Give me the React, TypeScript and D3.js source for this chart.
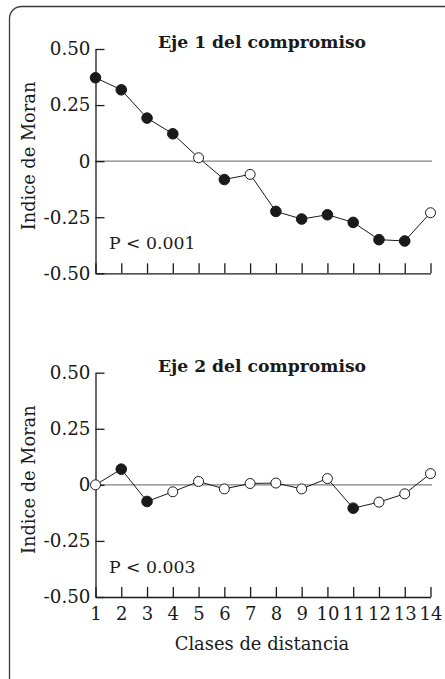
import * as d3 from "d3";
import { useEffect, useRef } from "react";

// distance classes (x)
const classes = [1, 2, 3, 4, 5, 6, 7, 8, 9, 10, 11, 12, 13, 14];

// Eje 1 del compromiso
const eje1Values = [0.372, 0.318, 0.192, 0.122, 0.015, -0.082, -0.059, -0.224, -0.258, -0.239, -0.273, -0.35, -0.356, -0.23];
const eje1Signif = [true, true, true, true, false, true, false, true, true, true, true, true, true, false];

// Eje 2 del compromiso
const eje2Values = [0.0, 0.07, -0.074, -0.031, 0.015, -0.018, 0.006, 0.008, -0.018, 0.028, -0.104, -0.077, -0.04, 0.05];
const eje2Signif = [false, true, true, false, false, false, false, false, false, false, true, false, false, false];

const yTicks = [0.5, 0.25, 0, -0.25, -0.5];
const yTickLabels = ["0.50", "0.25", "0", "-0.25", "-0.50"];

const panels = [
    { title: "Eje 1 del compromiso", pLabel: "P < 0.001", values: eje1Values, signif: eje1Signif, top: 49, showX: false },
    { title: "Eje 2 del compromiso", pLabel: "P < 0.003", values: eje2Values, signif: eje2Signif, top: 372.7, showX: true },
];

const font = "'DejaVu Serif', serif";
const ink = "#1a1a1a";

export default function App() {
    const svgRef = useRef(null);

    useEffect(() => {
        const svg = d3.select(svgRef.current);
        svg.selectAll("*").remove();

        // rounded frame, runs off the right and bottom edges
        svg.append("rect")
            .attr("x", 9.5)
            .attr("y", 6.5)
            .attr("width", 460)
            .attr("height", 690)
            .attr("rx", 12)
            .attr("fill", "none")
            .attr("stroke", "#3a3a3a")
            .attr("stroke-width", 1.3);

        const xScale = d3.scaleLinear().domain([1, 14]).range([95.5, 430.5]);
        const plotH = 224.3;

        panels.forEach((p) => {
            const yScale = d3.scaleLinear().domain([-0.5, 0.5]).range([p.top + plotH, p.top]);
            const g = svg.append("g");

            // zero line
            g.append("line")
                .attr("x1", xScale(1))
                .attr("x2", xScale(14) + 1.5)
                .attr("y1", yScale(0))
                .attr("y2", yScale(0))
                .attr("stroke", "#808080")
                .attr("stroke-width", 1.3);

            // y axis
            g.append("g")
                .attr("transform", "translate(" + xScale(1) + ",0)")
                .call(d3.axisLeft(yScale)
                    .tickValues(yTicks)
                    .tickFormat((d, i) => yTickLabels[i])
                    .tickSizeInner(-9)
                    .tickSizeOuter(0)
                    .tickPadding(5))
                .call(a => a.selectAll("path, line").attr("stroke", ink).attr("stroke-width", 1.3))
                .call(a => a.selectAll("text")
                    .attr("fill", ink)
                    .style("font-family", font)
                    .style("font-size", "18.3px"));

            // x axis
            g.append("g")
                .attr("transform", "translate(0," + yScale(-0.5) + ")")
                .call(d3.axisBottom(xScale)
                    .tickValues(classes)
                    .tickFormat(d => p.showX ? String(d) : "")
                    .tickSizeInner(-10)
                    .tickSizeOuter(0)
                    .tickPadding(10))
                .call(a => a.selectAll("path, line").attr("stroke", ink).attr("stroke-width", 1.3))
                .call(a => a.selectAll("text")
                    .attr("fill", ink)
                    .style("font-family", font)
                    .style("font-size", "18px"));

            // y label
            g.append("text")
                .attr("transform", "translate(35," + (p.top + 107) + ")rotate(-90)")
                .attr("text-anchor", "middle")
                .attr("fill", ink)
                .style("font-family", font)
                .style("font-size", "17.8px")
                .text("Indice de Moran");

            // title
            g.append("text")
                .attr("x", 262)
                .attr("y", p.top - 1)
                .attr("text-anchor", "middle")
                .attr("fill", ink)
                .style("font-family", font)
                .style("font-weight", "bold")
                .style("font-size", "17.2px")
                .text(p.title);

            // P value
            g.append("text")
                .attr("x", 109)
                .attr("y", p.top + 200)
                .attr("fill", ink)
                .style("font-family", font)
                .style("font-size", "17.3px")
                .text(p.pLabel);

            const pts = classes.map((c, i) => ({ x: c, y: p.values[i], s: p.signif[i] }));

            const line = d3.line<any>()
                .x(d => xScale(d.x))
                .y(d => yScale(d.y));

            g.append("path")
                .attr("d", line(pts))
                .attr("fill", "none")
                .attr("stroke", ink)
                .attr("stroke-width", 1);

            g.selectAll("circle")
                .data(pts)
                .enter()
                .append("circle")
                .attr("cx", d => xScale(d.x))
                .attr("cy", d => yScale(d.y))
                .attr("r", d => d.s ? 5.3 : 5)
                .attr("fill", d => d.s ? ink : "#fff")
                .attr("stroke", ink)
                .attr("stroke-width", 1);
        });

        // x label
        svg.append("text")
            .attr("x", 262)
            .attr("y", 650)
            .attr("text-anchor", "middle")
            .attr("fill", ink)
            .style("font-family", font)
            .style("font-size", "17.9px")
            .text("Clases de distancia");
    }, []);

    return (
        <svg ref={svgRef} width={445} height={679}
            style={{ position: "absolute", left: 0, top: 0, display: "block", background: "#fff" }}>
        </svg>
    );
}
